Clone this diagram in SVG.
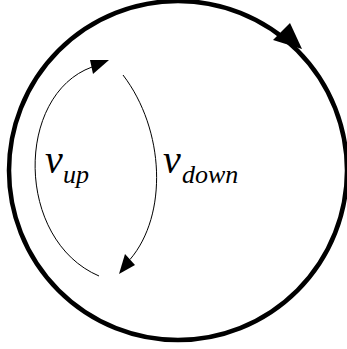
<svg xmlns="http://www.w3.org/2000/svg" width="347" height="349" viewBox="0 0 347 349">
<style>
.lbl{font-family:"Liberation Serif","Times New Roman",serif;font-style:italic;fill:#000}
.main{font-size:40px}
.sub{font-size:26px}
.thin{fill:none;stroke:#000;stroke-width:1}
.head{fill:#000;stroke:none}
</style>
<rect width="347" height="349" fill="#fff"/>
<g id="cycle">
<ellipse cx="178" cy="170.5" rx="169" ry="169.5" fill="none" stroke="#000" stroke-width="4.5"/>
<polygon class="head" points="302,49 290,23 273,40"/>
</g>
<g id="connectors">
<path class="thin" d="M99,276 C15,240 15,95 92,67"/>
<polygon class="head" points="109,60 90,60 93,74"/>
<path class="thin" d="M123,75 C165,130 168,215 130,259.5"/>
<polygon class="head" points="119,274 125,254 135,265"/>
</g>
<g id="label-up">
<text class="lbl main" x="45" y="173">v</text>
<text class="lbl sub" x="63" y="183">up</text>
</g>
<g id="label-down">
<text class="lbl main" x="163" y="173">v</text>
<text class="lbl sub" x="182" y="183">down</text>
</g>
</svg>
